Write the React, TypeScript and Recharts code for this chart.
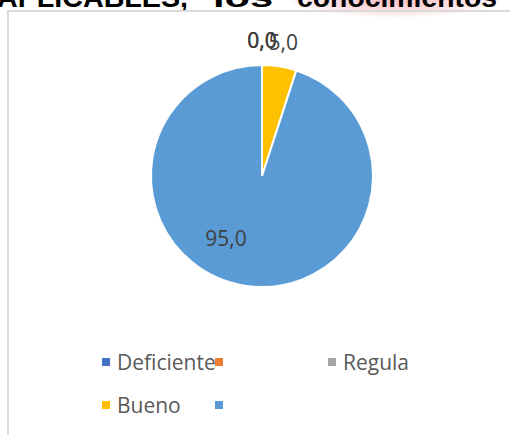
import React from "react";
import { PieChart, Pie, Cell, Legend } from "recharts";

const categories = ["Deficiente", "", "Regula", "Bueno", ""];
const values = [0.0, 0.0, 0.0, 5.0, 95.0];
const palette = ["#4472C4", "#ED7D31", "#A5A5A5", "#FFC000", "#5B9BD5"];
const titleParts = ["APLICABLES,", "'los'", "conocimientos"];

const data = categories.map((name, i) => ({ name: name || `serie${i}`, label: name, value: values[i] }));

const RADIAN = Math.PI / 180;
const fmt = (v: number) => v.toFixed(1).replace(".", ",");
const FONT = "'Open Sans', 'Noto Sans', sans-serif";

function renderLabel(props: any) {
  const { cx, cy, midAngle, outerRadius, value } = props;
  let r: number;
  let a: number;
  if (value > 50) {
    r = outerRadius * 0.65;
    a = midAngle - 21;
  } else {
    r = outerRadius + 25;
    a = midAngle;
  }
  const x = cx + r * Math.cos(-a * RADIAN);
  const y = cy + r * Math.sin(-a * RADIAN);
  return (
    <text x={x} y={y} textAnchor="middle" dominantBaseline="central" fill="#404040" fontSize={21} fontFamily={FONT}>
      {fmt(value)}
    </text>
  );
}

function renderLegend() {
  return (
    <div style={{ display: "flex", flexWrap: "wrap", width: 340, fontFamily: FONT }}>
      {categories.map((c, i) => (
        <div key={i} style={{ width: 113, height: 43.5, display: "flex", alignItems: "center", whiteSpace: "nowrap" }}>
          <span style={{ display: "inline-block", width: 8, height: 8, background: palette[i], marginRight: 7, flex: "none" }} />
          <span style={{ fontSize: 21, color: "#595959" }}>{c}</span>
        </div>
      ))}
    </div>
  );
}

const titleX = [-3, 203, 297];
const titleW = [191, 80, 200];

export default function App() {
  return (
    <div style={{ position: "absolute", left: 0, top: 0, width: 510, height: 435, overflow: "hidden", background: "#fff" }}>
      <div
        style={{
          position: "absolute",
          left: 285,
          top: -22,
          width: 220,
          height: 40,
          borderRadius: "50%",
          background: "radial-gradient(ellipse at center, rgba(240,110,120,0.45) 0%, rgba(245,150,160,0.3) 45%, rgba(255,255,255,0) 72%)",
        }}
      />
      <svg width={510} height={12} style={{ position: "absolute", left: 0, top: 0 }}>
        {titleParts.map((t, i) => (
          <text
            key={i}
            x={titleX[i]}
            y={7}
            textLength={titleW[i]}
            lengthAdjust="spacingAndGlyphs"
            fontFamily="'Liberation Sans', Arial, sans-serif"
            fontWeight="bold"
            fontSize={28}
            fill="#000"
          >
            {t}
          </text>
        ))}
      </svg>
      <div
        style={{
          position: "absolute",
          left: 7,
          top: 10,
          width: 600,
          height: 500,
          borderLeft: "2px solid #DADADA",
          borderTop: "2px solid #DADADA",
          boxSizing: "border-box",
        }}
      />
      <div style={{ position: "absolute", left: 0, top: 0 }}>
        <PieChart width={510} height={435} margin={{ top: 0, right: 0, bottom: 0, left: 0 }}>
          <Pie
            data={data}
            dataKey="value"
            nameKey="name"
            cx={262}
            cy={176}
            outerRadius={111}
            startAngle={90}
            endAngle={-270}
            stroke="#ffffff"
            strokeWidth={2}
            label={renderLabel}
            labelLine={false}
            isAnimationActive={false}
          >
            {data.map((d, i) => (
              <Cell key={i} fill={palette[i]} />
            ))}
          </Pie>
          <Legend content={renderLegend} wrapperStyle={{ left: 102, top: 340, width: 340, bottom: "auto" }} />
        </PieChart>
      </div>
    </div>
  );
}
